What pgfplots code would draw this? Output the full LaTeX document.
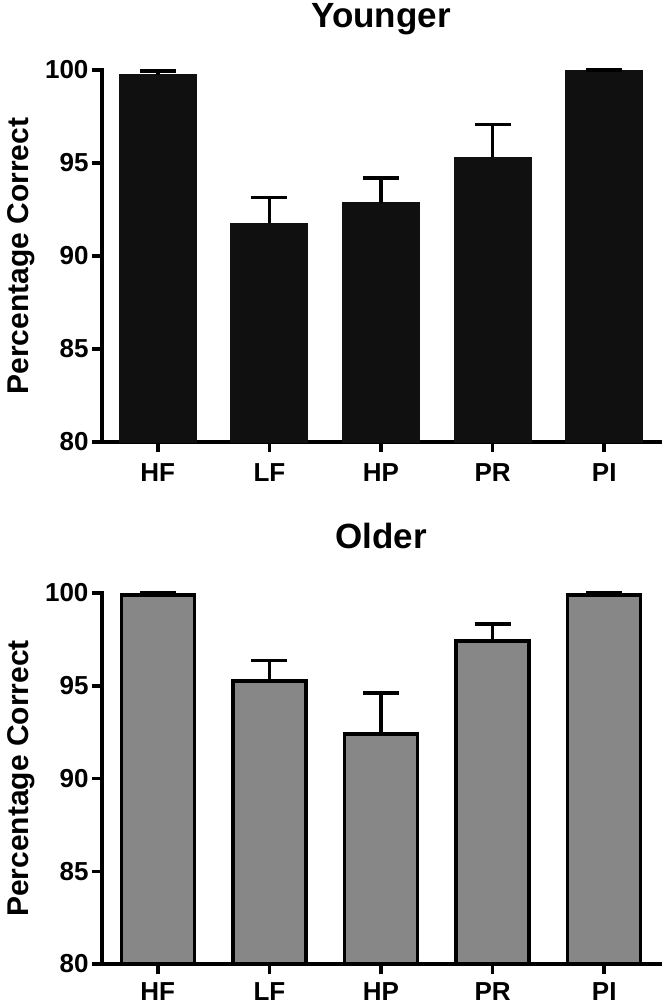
\documentclass[border=0pt]{standalone}
\usepackage{fontspec}
\setmainfont{Liberation Sans}
\usepackage{pgfplots}
\pgfplotsset{compat=1.18}
\definecolor{barblack}{HTML}{101010}
\definecolor{bargray}{HTML}{878787}
\pgfplotsset{
  panel/.style={
    scale only axis,
    width=558pt, height=372pt,
    xmin=-0.5, xmax=4.5, ymin=80, ymax=100,
    axis x line*=bottom, axis y line*=left,
    axis line style={line width=3.5pt, line cap=rect},
    xtick={0,1,2,3,4}, xticklabels={HF,LF,HP,PR,PI},
    ytick={80,85,90,95,100},
    tick align=outside, major tick length=10pt,
    tick style={line width=3.5pt, black},
    /pgf/number format/assume math mode=true,
    ticklabel style={font=\bfseries\fontsize{26}{26}\selectfont},
    ylabel={Percentage Correct},
    ylabel style={font=\bfseries\fontsize{30}{30}\selectfont, at={(axis description cs:-0.1326,0.5)}, anchor=base, rotate=0},
    title style={font=\bfseries\fontsize{35}{35}\selectfont, at={(axis description cs:0.5,1)}, anchor=base},
    clip=false,
    ybar, bar width=77pt,
    error bars/y dir=plus, error bars/y explicit,
    error bars/error mark=|,
    error bars/error bar style={line width=3.5pt, black},
    error bars/error mark options={line width=3.5pt, mark size=18pt, black},
  }
}
\begin{document}
\begin{tikzpicture}
\useasboundingbox (0pt,0pt) rectangle (664pt,-1006pt);
\begin{axis}[panel, at={(102pt,-442pt)}, anchor=south west, title={Younger}, title style={yshift=37pt}, xticklabel style={yshift=-8pt}]
\addplot[fill=barblack, draw=barblack, line width=0pt] coordinates {
  (0,99.75) +- (0,0.2)
  (1,91.75) +- (0,1.4)
  (2,92.85) +- (0,1.35)
  (3,95.3)  +- (0,1.78)
  (4,100)   +- (0,0)
};
\end{axis}
\begin{axis}[panel, at={(102pt,-964pt)}, anchor=south west, title={Older}, title style={yshift=39pt}, height=371pt, bar width=73pt, xticklabel style={yshift=-5pt}]
\addplot[fill=bargray, draw=black, line width=3.5pt] coordinates {
  (0,99.9)  +- (0,0.1)
  (1,95.25) +- (0,1.12)
  (2,92.4)  +- (0,2.2)
  (3,97.4)  +- (0,0.92)
  (4,99.9)  +- (0,0.1)
};
\end{axis}
\end{tikzpicture}
\end{document}
